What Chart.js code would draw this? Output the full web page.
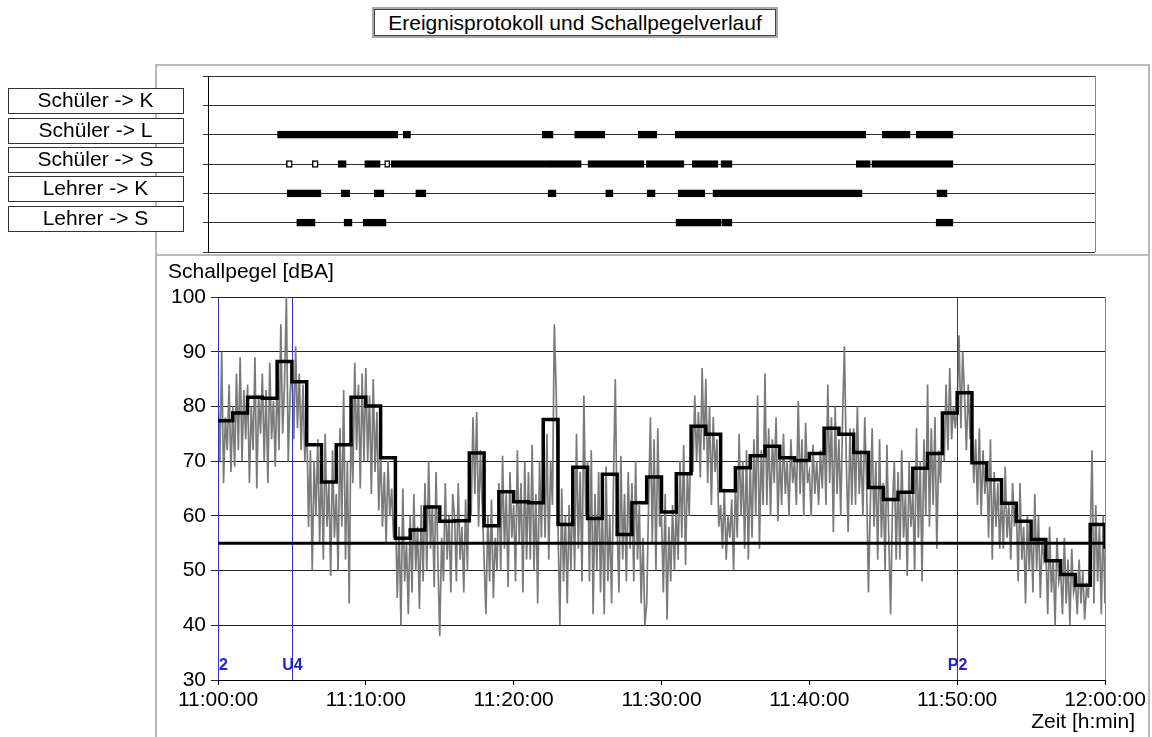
<!DOCTYPE html>
<html>
<head>
<meta charset="utf-8">
<title>Ereignisprotokoll und Schallpegelverlauf</title>
<script src="https://cdn.jsdelivr.net/npm/chart.js@4.4.1/dist/chart.umd.min.js"></script>
<style>
  body { margin: 0; background: #fff; font-family: "Liberation Sans", Arial, sans-serif; }
  #page { position: relative; width: 1152px; height: 737px; overflow: hidden; }
  .panel { position: absolute; box-sizing: border-box; border: 2px solid #b8b8b8; }
  #title { position: absolute; left: 372px; top: 7px; width: 406px; height: 31px; box-sizing: border-box;
           border: 2px solid #a8a8a8; }
  #title div { height: 100%; box-sizing: border-box; border: 1px solid #444; font-size: 21px;
               line-height: 25px; text-align: center; color: #000; }
  canvas { position: absolute; left: 0; }
</style>
</head>
<body>
<div id="page">
  <div id="title"><div>Ereignisprotokoll und Schallpegelverlauf</div></div>
  <div class="panel" style="left:155px; top:64px; width:995px; height:192px;"></div>
  <div class="panel" style="left:155px; top:254px; width:995px; height:500px;"></div>
  <canvas id="eventChart" width="1152" height="200" style="top:60px"></canvas>
  <canvas id="levelChart" width="1152" height="482" style="top:255px"></canvas>
</div>
<script>
const FONT = '"Liberation Sans", Arial, sans-serif';

// event protocol: [start, end] in minutes after 11:00
const rows = ['Schüler -> K', 'Schüler -> L', 'Schüler -> S', 'Lehrer -> K', 'Lehrer -> S'];
const schuelerK = [];
const schuelerL = [[4.7, 12.85], [13.2, 13.7], [22.6, 23.35], [24.8, 26.85], [29.1, 30.35],
                   [31.6, 44.5], [45.6, 47.5], [47.9, 50.4]];
const schuelerS = [[5.3, 5.7], [7.05, 7.45], [8.8, 9.35], [10.6, 11.65], [11.95, 12.3], [12.4, 23.15],
                   [23.15, 25.25], [25.7, 29.5], [29.65, 32.2], [32.75, 34.5], [34.7, 35.45],
                   [43.85, 44.8], [44.9, 50.4]];
const lehrerK = [[5.35, 7.65], [9.0, 9.6], [11.25, 11.9], [14.05, 14.75], [23.0, 23.55], [26.9, 27.4],
                 [29.7, 30.25], [31.8, 33.6], [34.15, 44.25], [49.3, 50.0]];
const lehrerS = [[6.0, 7.25], [9.2, 9.75], [10.5, 12.05], [31.65, 34.7], [34.75, 35.45], [49.25, 50.4]];
const eventRows = [schuelerK, schuelerL, schuelerS, lehrerK, lehrerS];

// sound level
const timeTicks = ['11:00:00', '11:10:00', '11:20:00', '11:30:00', '11:40:00', '11:50:00', '12:00:00'];
const levelTicks = [30, 40, 50, 60, 70, 80, 90, 100];
const limit = 55;

// one-minute Leq values (last entry closes the final step)
const leq = [77.4, 78.8, 81.7, 81.5, 88.2, 84.5, 73.0, 66.2, 73.0, 81.7,
             80.1, 70.6, 55.9, 57.4, 61.6, 59.0, 59.1, 71.5, 58.2, 64.4,
             62.6, 62.4, 77.6, 58.4, 68.9, 59.5, 67.6, 56.6, 62.4, 67.1,
             60.7, 67.7, 76.4, 74.9, 64.6, 68.8, 71.0, 72.7, 70.6, 70.1,
             71.4, 76.0, 74.9, 71.6, 65.2, 63.0, 64.3, 68.7, 71.4, 78.8,
             82.5, 69.7, 66.6, 62.3, 59.0, 55.7, 51.8, 49.3, 47.3, 58.4, 54.0];

// level samples, 8 per minute
const samplesPerMinute = 8;
const level = [
  82, 70, 90, 66, 78, 72, 84, 68,   80, 69, 86, 72, 89, 70, 83, 74,
  84, 66, 80, 72, 89, 65, 82, 75,   86, 70, 83, 66, 88, 74, 81, 69,
  86, 72, 95, 75, 84, 100, 70, 82,  88, 74, 91, 76, 86, 72, 84, 70,
  78, 58, 72, 50, 70, 60, 74, 55,   70, 52, 75, 58, 66, 49, 72, 56,
  64, 50, 76, 58, 83, 52, 70, 44,   78, 66, 88, 72, 84, 65, 86, 70,
  87, 70, 82, 64, 85, 68, 79, 61,   72, 58, 68, 55, 70, 60, 65, 56,
  62, 45, 58, 40, 65, 48, 55, 42,   60, 46, 64, 50, 58, 43, 62, 48,
  66, 50, 70, 54, 62, 47, 68, 52,   38, 56, 48, 66, 52, 60, 46, 64,
  60, 48, 66, 52, 58, 46, 63, 50,   70, 60, 78, 64, 79, 58, 72, 62,
  52, 42, 60, 48, 63, 45, 56, 50,   66, 50, 71, 54, 64, 47, 68, 56,
  62, 48, 72, 55, 66, 46, 70, 52,   68, 52, 73, 50, 64, 44, 70, 56,
  72, 56, 75, 52, 70, 62, 95, 83,   58, 40, 65, 48, 60, 44, 62, 50,
  66, 50, 75, 54, 68, 48, 82, 60,   70, 48, 72, 42, 64, 50, 68, 46,
  62, 42, 69, 48, 60, 44, 66, 85,   58, 46, 71, 52, 64, 48, 68, 54,
  66, 48, 70, 52, 62, 44, 56, 40,   44, 62, 78, 55, 74, 50, 76, 58,
  60, 46, 64, 41, 58, 48, 62, 50,   62, 52, 70, 56, 73, 51, 68, 60,
  76, 68, 82, 70, 79, 67, 87, 72,   85, 66, 80, 62, 78, 68, 74, 58,
  62, 54, 65, 52, 60, 56, 63, 50,   66, 56, 75, 60, 70, 54, 72, 52,
  70, 56, 74, 60, 82, 54, 72, 62,   86, 62, 76, 60, 74, 66, 78, 59,
  72, 62, 75, 64, 70, 60, 74, 66,   70, 62, 81, 64, 74, 60, 77, 66,
  68, 60, 73, 64, 70, 62, 72, 65,   76, 62, 84, 66, 78, 57, 80, 64,
  74, 60, 78, 91, 70, 57, 76, 62,   76, 62, 80, 64, 72, 60, 78, 66,
  46, 62, 76, 58, 70, 52, 74, 56,   66, 50, 73, 56, 42, 62, 70, 52,
  68, 52, 72, 56, 64, 49, 70, 58,   64, 50, 76, 56, 70, 48, 74, 60,
  84, 58, 76, 62, 78, 54, 72, 66,   78, 70, 84, 72, 87, 74, 80, 76,
  80, 93, 76, 90, 82, 72, 84, 74,   78, 66, 74, 62, 76, 60, 72, 64,
  70, 56, 74, 52, 68, 58, 66, 54,   64, 54, 69, 56, 62, 52, 66, 58,
  62, 48, 66, 52, 58, 44, 60, 50,   58, 46, 64, 50, 60, 45, 56, 52,
  54, 42, 58, 46, 52, 40, 56, 48,   50, 42, 56, 44, 52, 40, 54, 46,
  48, 42, 52, 44, 50, 41, 47, 45,   56, 72, 44, 62, 48, 58, 42, 60,
  44
];

// markers on the time axis
const markerTimes = [0, 5, 50];
const markerLabels = ['2', 'U4', 'P2'];

// ---------- event chart ----------
const events = [];
eventRows.forEach((list, r) => list.forEach(([a, b]) => events.push({ x: [a, b], y: r + 1 })));

const rowLabels = {
  id: 'rowLabels',
  afterDraw(chart) {
    const { ctx, chartArea, scales: { y } } = chart;
    ctx.save();
    // right edge of the frame
    ctx.strokeStyle = '#888';
    ctx.lineWidth = 1;
    ctx.beginPath();
    ctx.moveTo(chartArea.right + 0.5, chartArea.top);
    ctx.lineTo(chartArea.right + 0.5, chartArea.bottom);
    ctx.stroke();
    ctx.font = '21px ' + FONT;
    ctx.textAlign = 'center';
    ctx.textBaseline = 'middle';
    rows.forEach((name, i) => {
      const py = Math.round(y.getPixelForValue(i + 1));
      ctx.fillStyle = '#fff';
      ctx.fillRect(8, py - 17, 175, 25);
      ctx.strokeStyle = '#333';
      ctx.strokeRect(8.5, py - 16.5, 175, 25);
      ctx.fillStyle = '#000';
      ctx.fillText(name, 95.5, py - 3.5);
    });
    ctx.restore();
  }
};

new Chart(document.getElementById('eventChart'), {
  type: 'bar',
  data: {
    datasets: [{
      data: events,
      backgroundColor: c => (c.raw && c.raw.x[1] - c.raw.x[0] < 0.42 ? '#fff' : '#000'),
      borderColor: '#000',
      borderWidth: 1.5,
      borderSkipped: false,
      barThickness: 7
    }]
  },
  options: {
    indexAxis: 'y',
    responsive: false,
    animation: false,
    events: [],
    layout: { padding: { left: 200, right: 57, top: 16, bottom: 8 } },
    plugins: { legend: { display: false }, tooltip: { enabled: false } },
    scales: {
      x: { type: 'linear', min: 0, max: 60, display: false },
      y: {
        type: 'linear', min: 0, max: rows.length + 1, reverse: true, offset: false,
        afterFit: s => { s.width = 8; },
        ticks: { display: false, stepSize: 1 },
        grid: { color: '#333', tickLength: 5, offset: false },
        border: { color: '#000' }
      }
    }
  },
  plugins: [rowLabels]
});

// ---------- sound level chart ----------
const levelDecor = {
  id: 'levelDecor',
  afterDatasetDraw(chart, args) {
    if (args.index !== 2) return;
    const { ctx, chartArea, scales: { x } } = chart;
    ctx.save();
    ctx.strokeStyle = '#3030d0';
    ctx.lineWidth = 1;
    ctx.fillStyle = '#2020d0';
    ctx.font = 'bold 16px ' + FONT;
    ctx.textBaseline = 'middle';
    markerTimes.forEach((t, i) => {
      const px = Math.round(x.getPixelForValue(t)) + 0.5;
      ctx.beginPath();
      ctx.moveTo(px, chartArea.top);
      ctx.lineTo(px, chartArea.bottom);
      ctx.stroke();
      const w = ctx.measureText(markerLabels[i]).width;
      if (px - w / 2 < chartArea.left) {
        ctx.textAlign = 'left';
        ctx.fillText(markerLabels[i], chartArea.left + 1, chartArea.bottom - 14);
      } else {
        ctx.textAlign = 'center';
        ctx.fillText(markerLabels[i], px, chartArea.bottom - 14);
      }
    });
    ctx.restore();
  },
  afterDraw(chart) {
    const { ctx, chartArea } = chart;
    ctx.save();
    ctx.strokeStyle = '#888';
    ctx.lineWidth = 1;
    ctx.beginPath();
    ctx.moveTo(chartArea.right + 0.5, chartArea.top);
    ctx.lineTo(chartArea.right + 0.5, chartArea.bottom);
    ctx.stroke();
    ctx.fillStyle = '#000';
    ctx.font = '21px ' + FONT;
    ctx.textBaseline = 'middle';
    ctx.textAlign = 'left';
    ctx.fillText('Schallpegel [dBA]', 168, 17);
    ctx.textAlign = 'right';
    ctx.fillText('Zeit [h:min]', 1135, 467);
    ctx.restore();
  }
};

new Chart(document.getElementById('levelChart'), {
  type: 'line',
  data: {
    datasets: [
      {
        label: 'Leq',
        data: leq.map((v, i) => ({ x: i, y: v })),
        stepped: true,
        borderColor: '#000',
        borderWidth: 3.5,
        pointRadius: 0
      },
      {
        label: 'Grenzwert',
        data: [{ x: 0, y: limit }, { x: 60, y: limit }],
        borderColor: '#000',
        borderWidth: 3,
        pointRadius: 0
      },
      {
        label: 'Pegel',
        data: level.map((v, i) => ({ x: i / samplesPerMinute, y: v })),
        borderColor: '#7a7a7a',
        borderWidth: 1.7,
        pointRadius: 0
      }
    ]
  },
  options: {
    responsive: false,
    animation: false,
    events: [],
    layout: { padding: { left: 150, right: 47, top: 42, bottom: 17 } },
    plugins: { legend: { display: false }, tooltip: { enabled: false } },
    scales: {
      x: {
        type: 'linear', min: 0, max: 60,
        afterFit: s => { s.height = 40; },
        ticks: {
          stepSize: 10, maxRotation: 0, autoSkip: false, padding: 3, color: '#000',
          font: { size: 21, family: FONT },
          callback: v => timeTicks[v / 10]
        },
        grid: { drawOnChartArea: false, tickLength: 5, color: '#000' },
        border: { color: '#000' }
      },
      y: {
        min: levelTicks[0], max: levelTicks[levelTicks.length - 1],
        afterFit: s => { s.width = 68; },
        ticks: {
          stepSize: 10, padding: 5, color: '#000',
          font: { size: 21, family: FONT }
        },
        grid: { color: '#222', tickLength: 7 },
        border: { color: '#000' }
      }
    }
  },
  plugins: [levelDecor]
});
</script>
</body>
</html>
